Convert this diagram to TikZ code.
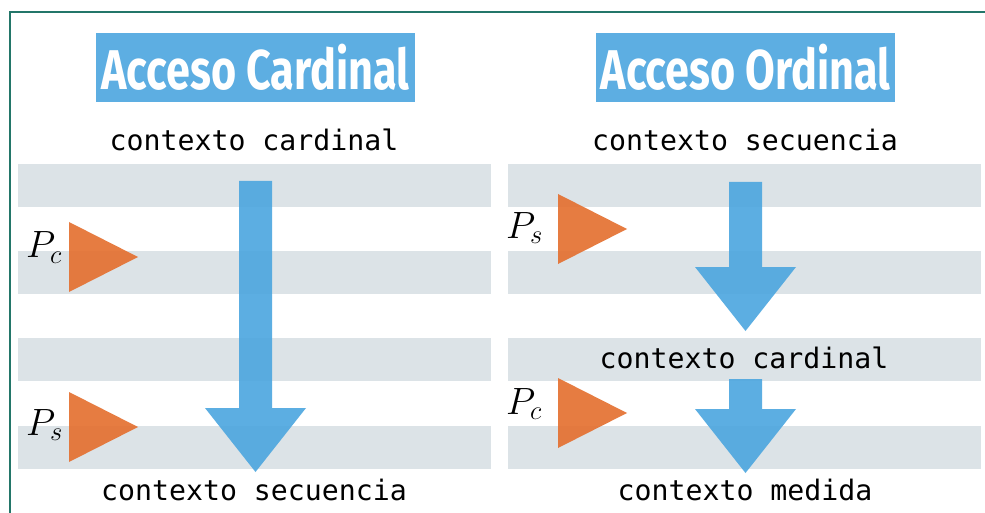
\RequirePackage{fix-cm}
\documentclass[tikz,border=0pt]{standalone}
\usepackage{fontspec}
\usepackage{xcolor}
\usepackage{tikz}
\usetikzlibrary{positioning}
\setmonofont{DejaVu Sans Mono}
\newfontfamily\titlefont[FakeStretch=0.77]{Fira Sans}
\definecolor{tituloazul}{RGB}{93,174,226}
\definecolor{flechaazul}{RGB}{75,166,223}
\definecolor{naranja}{RGB}{228,110,45}
\definecolor{bandagris}{RGB}{220,227,231}
\definecolor{marcoverde}{RGB}{35,118,105}
\tikzset{
  % titulo del panel
  titulo/.style={
    fill=tituloazul,
    text=white,
    inner sep=0pt,
    minimum height=69pt,
    font=\titlefont\bfseries\fontsize{56}{60}\selectfont
  },
  % texto de contexto
  contexto/.style={font=\ttfamily\fontsize{28.2}{31}\selectfont, inner sep=0pt},
  % etiqueta P
  etiq/.style={font=\fontsize{38}{42}\selectfont, inner sep=0pt, anchor=base west},
  % bandas grises
  banda/.style={fill=bandagris},
  % flecha grande
  flecha/.style={fill=flechaazul, fill opacity=0.9},
  % triangulo
  tri/.style={fill=naranja, fill opacity=0.9},
  marco/.style={draw=marcoverde, line width=2pt},
}
\begin{document}
\begin{tikzpicture}[x=1pt, y=-1pt]
        \useasboundingbox (0,0) rectangle (985,513);
        \fill[white] (0,0) rectangle (985,513);
        \draw[marco] (10,513) -- (10,12) -- (985,12);

        % Acceso Cardinal
        \begin{scope}[shift={(0,0)}]
            \foreach \y in {164,251,338,426}
                \fill[banda] (18,\y) rectangle (491,\y+43);
            \node[titulo, minimum width=319pt] (tcard) at (255.5,67.5) {Acceso Cardinal};
            \node[contexto] (cc1) at (254,140) {contexto cardinal};
            \node[contexto] (cs1) at (254,490) {contexto secuencia};
            \fill[flecha] (239,181) -- (272,181) -- (272,408) -- (306,408)
                -- (255.5,472) -- (205,408) -- (239,408) -- cycle;
            \fill[tri] (69,222) -- (138,257) -- (69,292) -- cycle;
            \fill[tri] (69,392) -- (138,427) -- (69,462) -- cycle;
            \node[etiq] (pc1) at (26,258) {$P_c$};
            \node[etiq] (ps1) at (26,435) {$P_s$};
        \end{scope}

        % Acceso Ordinal
        \begin{scope}[shift={(490,0)}]
            \foreach \y in {164,251,338,426}
                \fill[banda] (18,\y) rectangle (491,\y+43);
            \node[titulo, minimum width=299pt] (tord) at (255.5,67.5) {Acceso Ordinal};
            \node[contexto] (cs2) at (255,140) {contexto secuencia};
            \node[contexto] (cc2) at (254,358) {contexto cardinal};
            \node[contexto] (cm2) at (255,490) {contexto medida};
            \fill[flecha] (239,182) -- (272,182) -- (272,267) -- (306,267)
                -- (255.5,331) -- (205,267) -- (239,267) -- cycle;
            \fill[flecha] (239,379) -- (272,379) -- (272,409) -- (306,409)
                -- (255.5,473) -- (205,409) -- (239,409) -- cycle;
            \fill[tri] (68,194) -- (137,229) -- (68,264) -- cycle;
            \fill[tri] (68,378) -- (137,413) -- (68,448) -- cycle;
            \node[etiq] (ps2) at (16,238) {$P_s$};
            \node[etiq] (pc2) at (16,414) {$P_c$};
        \end{scope}
    \end{tikzpicture}
\end{document}
